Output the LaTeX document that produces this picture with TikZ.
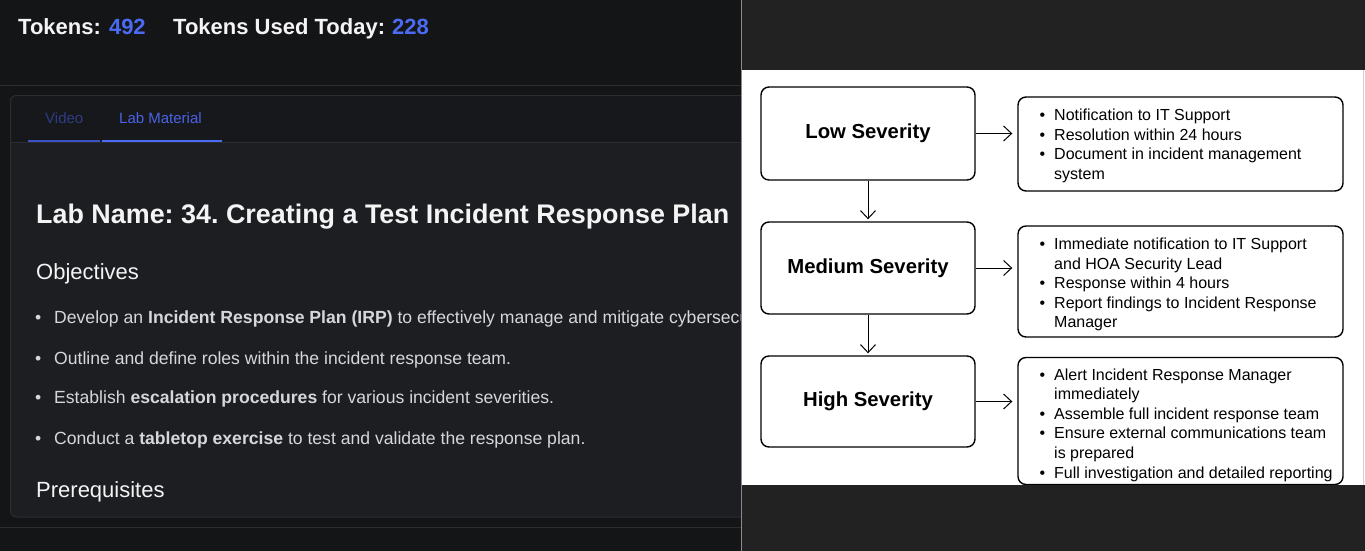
\documentclass[tikz,border=0pt]{standalone}
\usepackage{fontspec}
\setmainfont{Liberation Sans}
\usetikzlibrary{arrows.meta}
\definecolor{bgL}{HTML}{141517}
\definecolor{cardbg}{HTML}{1C1E22}
\definecolor{tabbg}{HTML}{17181B}
\definecolor{lineL}{HTML}{2B2D31}
\definecolor{blueA}{HTML}{4B6BF5}
\definecolor{blueTab}{HTML}{4A63E6}
\definecolor{blueDim}{HTML}{2F3C85}
\definecolor{blueLine}{HTML}{3B52C4}
\definecolor{txtL}{HTML}{D6D7D9}
\definecolor{titleL}{HTML}{F4F4F5}
\definecolor{darkR}{HTML}{222222}
\definecolor{divider}{HTML}{8A8A8A}
\newcommand\myBul{\makebox[17pt][l]{\hspace{2.5pt}\textbullet}}
\newcommand\myInd{\hspace*{17pt}}
\newcommand\myLBul{\makebox[19pt][l]{\textbullet}}
\frenchspacing
\begin{document}
\frenchspacing
\begin{tikzpicture}[x=1pt,y=-1pt,
  hdr/.style={anchor=base west, inner sep=0pt, text=titleL, font=\fontsize{22}{26}\selectfont\bfseries},
  tabtxt/.style={anchor=base west, inner sep=0pt, font=\fontsize{15}{18}\selectfont},
  body/.style={anchor=base west, inner sep=0pt, text=txtL, font=\fontsize{17.6}{21}\selectfont},
  sect/.style={anchor=base west, inner sep=0pt, text=titleL, font=\fontsize{22}{26}\selectfont},
  sev/.style={draw=black, line width=1.4pt, rounded corners=8pt, minimum width=214pt, inner sep=0pt, font=\fontsize{20.3}{24}\selectfont\bfseries},
  resp/.style={draw=black, line width=1.4pt, rounded corners=8pt, minimum width=325pt, inner sep=0pt},
  resptxt/.style={anchor=west, align=left, inner sep=0pt, text=black, font=\fontsize{16}{19.6}\selectfont},
  arr/.style={line width=1pt, -{Straight Barb[length=8pt,width=15pt,line width=1pt]}}
]
\useasboundingbox (0,0) rectangle (1365,551);
% ---------- left panel ----------
\fill[bgL] (0,0) rectangle (741,551);
\begin{scope}
\clip (0,0) rectangle (741,551);
\draw[lineL, line width=1pt] (0,85.5) -- (741,85.5);
\fill[cardbg, rounded corners=6pt] (10,95) rectangle (780,517);
\fill[tabbg] (10,142) [rounded corners=6pt] -- (10,95) -- (780,95) [sharp corners] -- (780,142) -- cycle;
\draw[lineL, line width=1pt] (10,142.5) -- (780,142.5);
\draw[lineL, line width=1pt, rounded corners=6pt] (10.5,95.5) rectangle (780,517);
\draw[lineL, line width=1pt] (0,527.5) -- (741,527.5);
\node[hdr] (tok) at (18,35) {Tokens:\hspace{2pt} \textcolor{blueA}{492}};
\node[hdr] (used) at (173,35) {Tokens Used Today:\hspace{1pt} \textcolor{blueA}{228}};
\node[tabtxt, text=blueDim] (vid) at (45,123) {Video};
\node[tabtxt, text=blueTab] (labm) at (119,123) {Lab Material};
\draw[blueLine, line width=2pt] (28,140.5) -- (100,140.5);
\draw[blueA, line width=2pt] (102,140.5) -- (222,140.5);
\node[anchor=base west, inner sep=0pt, text=titleL, font=\fontsize{26.9}{31}\selectfont\bfseries] (title) at (36,223) {Lab Name: 34. Creating a Test Incident Response Plan};
\node[sect] (obj) at (36,279) {Objectives};
\node[body] (b1) at (35,323) {\myLBul Develop an \textbf{Incident Response Plan (IRP)} to effectively manage and mitigate cybersecurity};
\node[body] (b2) at (35,364) {\myLBul Outline and define roles within the incident response team.};
\node[body] (b3) at (35,403) {\myLBul Establish \textbf{escalation procedures} for various incident severities.};
\node[body] (b4) at (35,444) {\myLBul Conduct a \textbf{tabletop exercise} to test and validate the response plan.};
\node[sect] (pre) at (36,497) {Prerequisites};
\end{scope}
% ---------- right panel ----------
\fill[darkR] (741,0) rectangle (1365,70);
\fill[white] (741,70) rectangle (1365,485);
\draw[black!18, line width=1pt] (1363.5,70) -- (1363.5,485);
\node[sev, minimum height=93pt] (low) at (868,133.5) {Low Severity};
\node[sev, minimum height=92pt] (med) at (868,268) {Medium Severity};
\node[sev, minimum height=91pt] (high) at (868,401.5) {High Severity};
\node[resp, minimum height=94pt] (r1) at (1180.5,144) {};
\node[resp, minimum height=111pt] (r2) at (1180.5,281.5) {};
\node[resp, minimum height=127pt] (r3) at (1180.5,421) {};
\node[resptxt] (t1) at (1037,146) {\myBul Notification to IT Support\\ \myBul Resolution within 24 hours\\ \myBul Document in incident management\\ \myInd system};
\node[resptxt] (t2) at (1037,284.5) {\myBul Immediate notification to IT Support\\ \myInd and HOA Security Lead\\ \myBul Response within 4 hours\\ \myBul Report findings to Incident Response\\ \myInd Manager};
\node[resptxt] (t3) at (1037,425) {\myBul Alert Incident Response Manager\\ \myInd immediately\\ \myBul Assemble full incident response team\\ \myBul Ensure external communications team\\ \myInd is prepared\\ \myBul Full investigation and detailed reporting};
\draw[arr, shorten >=5pt] (low.east) -- (low.east -| r1.west);
\draw[arr, shorten >=5pt] (med.east) -- (med.east -| r2.west);
\draw[arr, shorten >=5pt] (high.east) -- (high.east -| r3.west);
\draw[arr, shorten >=2pt] (low.south) -- (med.north);
\draw[arr, shorten >=2pt] (med.south) -- (high.north);
\fill[darkR] (741,485) rectangle (1365,551);
\draw[divider, line width=1pt] (741.5,0) -- (741.5,551);
\end{tikzpicture}
\end{document}
